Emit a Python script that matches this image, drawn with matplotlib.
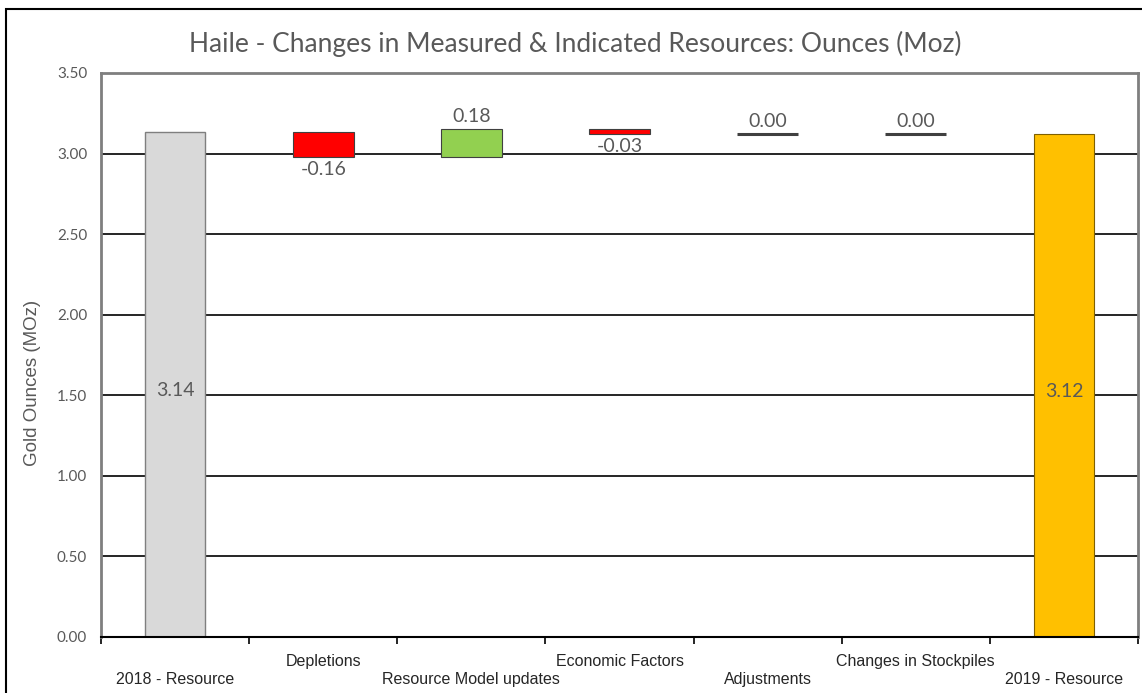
import matplotlib.pyplot as plt
import matplotlib.transforms as mtransforms
from matplotlib.patches import Rectangle

# data
categories = ['2018 - Resource', 'Depletions', 'Resource Model updates',
              'Economic Factors', 'Adjustments', 'Changes in Stockpiles',
              '2019 - Resource']
start_total = 3.136
changes = [-0.158, 0.176, -0.033, 0.0, 0.0]
yticks = [0.0, 0.5, 1.0, 1.5, 2.0, 2.5, 3.0, 3.5]

end_total = start_total + sum(changes)

grey = '#595959'
fig = plt.figure(figsize=(11.42, 6.93), dpi=100)
ax = fig.add_axes([101/1142, 56/693, 1037/1142, 564/693])

# outer frame of the picture
fig.patches.append(Rectangle((6/1142, -0.01), 1.1, 1 - 9/693 + 0.01,
                             transform=fig.transFigure, fill=False,
                             edgecolor='black', linewidth=1.5))

ax.set_ylim(0, 3.5)
ax.set_xlim(-0.5, len(categories) - 0.5)
ax.set_yticks(yticks)
ax.set_yticklabels(['%.2f' % v for v in yticks], fontsize=11, color=grey,
                   family='Lato')
ax.tick_params(axis='y', length=0, pad=10)
ax.yaxis.grid(True, color='black', linewidth=1.2)
ax.set_axisbelow(True)

ax.set_xticks([i - 0.5 for i in range(len(categories) + 1)])
ax.set_xticklabels([])
ax.tick_params(axis='x', length=5, width=1.2, direction='out', color='black')

for s in ['left', 'top', 'right']:
    ax.spines[s].set_color('#7f7f7f')
    ax.spines[s].set_linewidth(2)
ax.spines['bottom'].set_color('black')
ax.spines['bottom'].set_linewidth(1.5)

w = 0.41
lab_kw = dict(fontsize=14, color=grey, family='Lato', ha='center')

# totals
ax.bar(0, start_total, width=w, color='#D9D9D9', edgecolor='#7f7f7f', linewidth=1)
ax.text(0, start_total / 2 - 0.04, '%.2f' % start_total, va='center', **lab_kw)
last = len(categories) - 1
ax.bar(last, end_total, width=w, color='#FFC000', edgecolor='#7f6000', linewidth=0.8)
ax.text(last, end_total / 2 - 0.04, '%.2f' % end_total, va='center', **lab_kw)

# changes
level = start_total
for i, d in enumerate(changes, start=1):
    if d == 0:
        ax.hlines(level, i - w / 2, i + w / 2, color='#404040', linewidth=2.2)
        ax.annotate('%.2f' % d, (i, level), xytext=(0, 3), textcoords='offset points',
                    va='bottom', **lab_kw)
    elif d > 0:
        ax.bar(i, d, bottom=level, width=w, color='#92D050',
               edgecolor='#404040', linewidth=0.8)
        ax.annotate('%.2f' % d, (i, level + d), xytext=(0, 3), textcoords='offset points',
                    va='bottom', **lab_kw)
    else:
        ax.bar(i, d, bottom=level, width=w, color='#FF0000',
               edgecolor='#404040', linewidth=0.8)
        ax.annotate('%.2f' % d, (i, level + d), xytext=(0, -3), textcoords='offset points',
                    va='top', **lab_kw)
    level += d

# category labels in two staggered rows
trans = mtransforms.blended_transform_factory(ax.transData, ax.transAxes)
for i, c in enumerate(categories):
    y = -0.0426 if i % 2 == 1 else -0.0762
    ax.text(i, y, c, transform=trans, ha='center', va='center',
            fontsize=11.5, color='#262626', family='Liberation Sans')

fig.text(33/1142, 1 - 383/693, 'Gold Ounces (MOz)', rotation=90, ha='center',
         va='center', fontsize=13.5, color=grey, family='Liberation Sans')
fig.text(575/1142, 1 - 44/693,
         'Haile - Changes in Measured & Indicated Resources: Ounces (Moz)',
         ha='center', va='center', fontsize=19, color=grey, family='Lato')

plt.savefig('out.png', dpi=100)
